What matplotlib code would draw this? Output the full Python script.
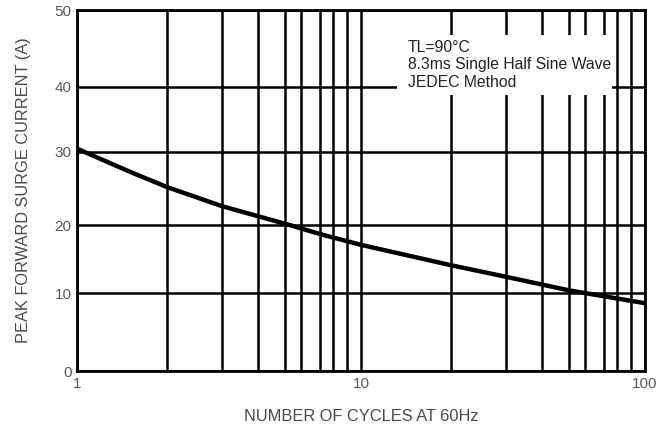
import matplotlib
matplotlib.use("Agg")
import numpy as np
import matplotlib.pyplot as plt
from matplotlib.patches import Rectangle
from matplotlib.ticker import FixedLocator, NullFormatter

plt.rcParams["font.family"] = ["Liberation Sans", "DejaVu Sans"]

# curve
cycles = [1, 1.5, 2, 3, 5.3, 7, 10, 20, 30, 50, 100]
current = [30.5, 27.3, 25.2, 22.6, 20.0, 18.7, 17.1, 14.1, 12.4, 10.4, 8.7]

x_major = [1, 10, 100]
x_minor = [2, 3, 4, 5, 6, 7, 8, 9, 20, 30, 40, 50, 60, 70, 80, 90]
y_ticks = [0, 10, 20, 30, 40, 50]

# the printed log paper is not quite regular: where the grid lines really sit
# (fraction of a decade for 1..10, fraction of the height for 0..50)
std_frac = np.log10(np.arange(1, 11))
paper_frac = np.array([0, .317, .51, .637, .732, .79, .855, .902, .951, 1.0])
paper_y = np.array([0, .216, .404, .607, .787, 1.0])


def x_fwd(x):
    d = np.log10(np.clip(np.asarray(x, dtype=float), 1e-9, None))
    k = np.floor(d)
    return k + np.interp(d - k, std_frac, paper_frac)


def x_inv(u):
    u = np.asarray(u, dtype=float)
    k = np.floor(u)
    return 10 ** (k + np.interp(u - k, paper_frac, std_frac))


def y_fwd(v):
    return np.interp(v, y_ticks, paper_y, left=-1, right=2)


def y_inv(u):
    return np.interp(u, paper_y, y_ticks)


fig = plt.figure(figsize=(6.72, 4.3), dpi=100)
ax = fig.add_axes([0.1146, 0.1372, 0.845, 0.8395])

ax.set_xscale("function", functions=(x_fwd, x_inv))
ax.set_yscale("function", functions=(y_fwd, y_inv))
ax.set_xlim(1, 100)
ax.set_ylim(0, 50)
ax.xaxis.set_major_locator(FixedLocator(x_major))
ax.xaxis.set_minor_locator(FixedLocator(x_minor))
ax.xaxis.set_minor_formatter(NullFormatter())
ax.set_xticklabels([str(v) for v in x_major])
ax.yaxis.set_major_locator(FixedLocator(y_ticks))
ax.set_yticklabels([str(v) for v in y_ticks])

ax.set_axisbelow(False)
ax.grid(True, which="both", axis="x", color="black", linewidth=1.8)
ax.grid(True, which="major", axis="y", color="black", linewidth=1.8)
ax.tick_params(which="both", length=0, labelsize=11, labelcolor="#5a5a5a", pad=4)

for s in ax.spines.values():
    s.set_linewidth(2)
    s.set_color("black")

ax.plot(cycles, current, color="black", linewidth=3.2, zorder=3.5)

# white panel behind the conditions text
ax.add_patch(Rectangle((0.563, 0.765), 0.379, 0.166, transform=ax.transAxes,
                       facecolor="white", edgecolor="none", zorder=3))
ax.text(0.583, 0.917,
        "TL=90°C\n8.3ms Single Half Sine Wave\nJEDEC Method",
        transform=ax.transAxes, fontsize=11.3, color="#222222",
        va="top", ha="left", linespacing=1.2, zorder=4)

ax.set_ylabel("PEAK FORWARD SURGE CURRENT (A)", fontsize=11.8, color="#4a4a4a", labelpad=17)
ax.set_xlabel("NUMBER OF CYCLES AT 60Hz", fontsize=11.8, color="#4a4a4a", labelpad=13)

fig.savefig("out.png", dpi=100, facecolor="white")
